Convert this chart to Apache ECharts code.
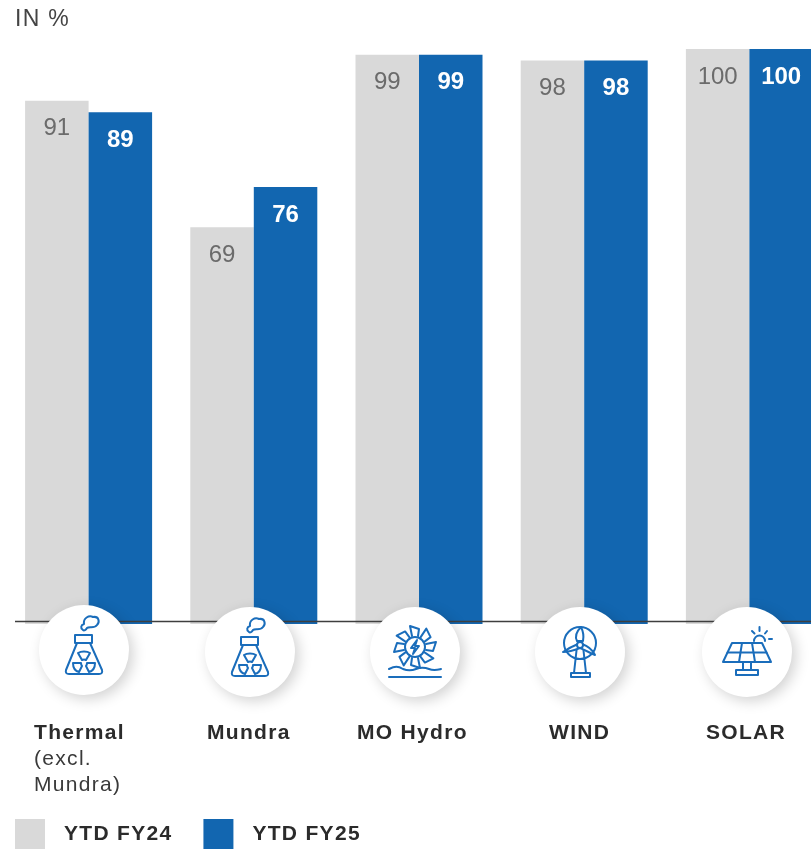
<!DOCTYPE html>
<html><head><meta charset="utf-8">
<script src="https://cdn.jsdelivr.net/npm/echarts@6/dist/echarts.min.js"></script>
<style>html,body{margin:0;padding:0;background:#fff}#c{width:811px;height:851px}</style>
</head><body><div id="c"></div>
<script>
// ---- data ----
const categories = ['Thermal\n(excl.\nMundra)', 'Mundra', 'MO Hydro', 'WIND', 'SOLAR'];
const seriesNames = ['YTD FY24', 'YTD FY25'];
const fy24 = [91, 69, 99, 98, 100];
const fy25 = [89, 76, 99, 98, 100];
const unitLabel = 'IN %';

// ---- style and layout ----
const GREY = '#d9d9d9', BLUE = '#1266b0', INK = '#2b2b2b', ICON = '#1a6dbb';
const FONT = '"Liberation Sans", Arial, sans-serif';
const labelShift = [13.75, 8.9, 11.8, 7.2, 6.65];
const iconCentres = [[84, 650], [250, 652], [415, 652], [580, 652], [747, 652]];

// wide tracking of the reference's captions (canvas-level letter spacing)
const nativeFill = CanvasRenderingContext2D.prototype.fillText;
CanvasRenderingContext2D.prototype.fillText = function () {
  this.letterSpacing = /(^|\s)(21|23)px/.test(this.font) ? '1.3px' : '0px';
  return nativeFill.apply(this, arguments);
};

const stroke = { stroke: ICON, lineWidth: 2, fill: 'none', lineJoin: 'round', lineCap: 'round' };
let shapeCount = 0;
const P = (d, extra) => {
  const name = 'iconPath' + (shapeCount++);
  echarts.graphic.registerShape(name, echarts.graphic.extendPath(d, {}));
  return Object.assign({ type: name, style: stroke, silent: true }, extra || {});
};

const reactor = [
  P('M-1,-20 C-4,-22 -3,-25 0,-26 C-1,-32 5,-35 9,-33 C15,-34 16,-28 13,-25 C10,-21 5,-24 3,-22 C2,-20 0,-19 -1,-20 Z'),
  P('M-9,-15 H8 V-7 H-9 Z'),
  P('M-7,-7 L-18,20 Q-19,24 -15,24 H15 Q19,24 18,20 L6,-7'),
  P('M-6,3 C-3,1 3,1 6,3 L2,10 C1,9.5 -1,9.5 -2,10 Z'),
  P('M-11,13 L-3,13 C-3,14.5 -2.5,15.5 -2,16 L-5,22 C-9,21 -11,17 -11,13 Z'),
  P('M11,13 L3,13 C3,14.5 2.5,15.5 2,16 L5,22 C9,21 11,17 11,13 Z')
];
const bladePath = 'M-3,-11 L-5,-21 L4,-18 L3,-11';
const hydro = [0, 45, 90, 135, 180, 225, 270, 315].map(deg =>
  P(bladePath, { rotation: -deg * Math.PI / 180, x: 0, y: -5 })).concat([
  P('M10,-5 A10,10 0 1 1 -10,-5 A10,10 0 1 1 10,-5 Z'),
  P('M2,-12 L-4,-4 H0 L-2,2 L4,-6 H0 Z'),
  P('M-26,17 C-20,14 -17,14 -12,17 C-7,19 -4,19 1,17 C6,15 9,15 14,17 C19,19 22,18 26,17'),
  P('M-26,25 H26')
]);
const filled = Object.assign({}, stroke, { fill: '#fff' });
const wind = [
  P('M16,-9 A16,16 0 1 1 -16,-9 A16,16 0 1 1 16,-9 Z'),
  P('M-3,-6 L-6,21 M3,-6 L6,21 M-4,7 H4'),
  P('M1,-25 C-5,-19 -5,-15 -3,-11 L3,-11 C4,-16 3,-21 1,-25 Z', { style: filled }),
  P('M-17,0 C-11,-4 -7,-6 -2,-8 L0,-4 C-5,-2 -10,0 -17,0 Z', { style: filled }),
  P('M15,3 C12,-3 8,-6 2,-8 L0,-4 C5,-2 10,1 15,3 Z', { style: filled }),
  P('M3,-7 A3,3 0 1 1 -3,-7 A3,3 0 1 1 3,-7 Z', { style: filled }),
  P('M-9,21 H10 V25 H-9 Z')
];
const solar = [
  P('M-15,-9 H15 L24,10 H-24 Z'),
  P('M-19.5,0.5 H19.5 M-5,-9 L-8,10 M5,-9 L8,10'),
  P('M-4,10 V18 M4,10 V18'),
  P('M-11,18 H11 V23 H-11 Z'),
  P('M7,-11 A5.5,5.5 0 0 1 18,-11'),
  P('M5,-21 L7.5,-18.5 M12.5,-25 V-21 M20,-21 L18,-18.5 M22,-13 H25')
];
const iconSets = [reactor, reactor, hydro, wind, solar];

const circles = iconCentres.map(([x, y]) => ({
  type: 'circle', x, y, z: 20, silent: true, shape: { r: 45 },
  style: { fill: '#fff', shadowColor: 'rgba(0,0,0,0.18)', shadowBlur: 14, shadowOffsetX: 4, shadowOffsetY: 4 }
}));
const icons = iconCentres.map(([x, y], i) => ({
  type: 'group', x, y, z: 21, silent: true,
  children: iconSets[i].map(c => Object.assign({}, c, { z: 21 }))
}));

const chart = echarts.init(document.getElementById('c'));
chart.setOption({
  animation: false,
  textStyle: { fontFamily: FONT },
  grid: { left: 6, width: 826, top: 49, bottom: 227, containLabel: false, outerBoundsMode: 'none' },
  legend: {
    left: 15, top: 819, padding: 0, itemWidth: 30, itemHeight: 30, itemGap: 41.4, icon: 'rect',
    selectedMode: false,
    textStyle: { color: INK, fontFamily: FONT, fontWeight: 'bold', fontSize: 21, padding: [0, 0, 0, 14] },
    data: seriesNames
  },
  xAxis: {
    type: 'category',
    data: categories.map((c, i) => ({ value: c, textStyle: { padding: [0, 2 * labelShift[i], 0, 0] } })),
    axisLine: { show: false }, axisTick: { show: false },
    axisLabel: {
      interval: 0, margin: 96, color: INK, fontFamily: FONT,
      formatter: v => v.split('\n').map((t, i) => (i ? '{n|' : '{b|') + t + '}').join('\n'),
      rich: {
        b: { fontWeight: 'bold', fontSize: 21, lineHeight: 26, color: INK, fontFamily: FONT, align: 'left' },
        n: { fontSize: 21, lineHeight: 26, color: '#3a3a3a', fontFamily: FONT, align: 'left' }
      }
    }
  },
  yAxis: { type: 'value', min: 0, max: 100, show: false, splitLine: { show: false } },
  series: [
    { name: seriesNames[0], type: 'bar', data: fy24, barWidth: 63.5, barGap: 0,
      itemStyle: { color: GREY },
      label: { show: true, position: 'insideTop', distance: 16, color: '#6b6b6b', fontSize: 24, fontFamily: FONT } },
    { name: seriesNames[1], type: 'bar', data: fy25, barWidth: 63.5, barGap: 0,
      itemStyle: { color: BLUE },
      label: { show: true, position: 'insideTop', distance: 16, color: '#fff', fontWeight: 'bold', fontSize: 24, fontFamily: FONT } }
  ],
  graphic: [
    { type: 'text', left: 15, top: 8, z: 30, silent: true,
      style: { text: unitLabel, fill: '#444', font: '23px ' + FONT } },
    { type: 'line', z: 10, silent: true, shape: { x1: 15, y1: 621.5, x2: 811, y2: 621.5 },
      style: { stroke: '#3f3f3f', lineWidth: 1.5 } }
  ].concat(circles, icons)
});
</script></body></html>
